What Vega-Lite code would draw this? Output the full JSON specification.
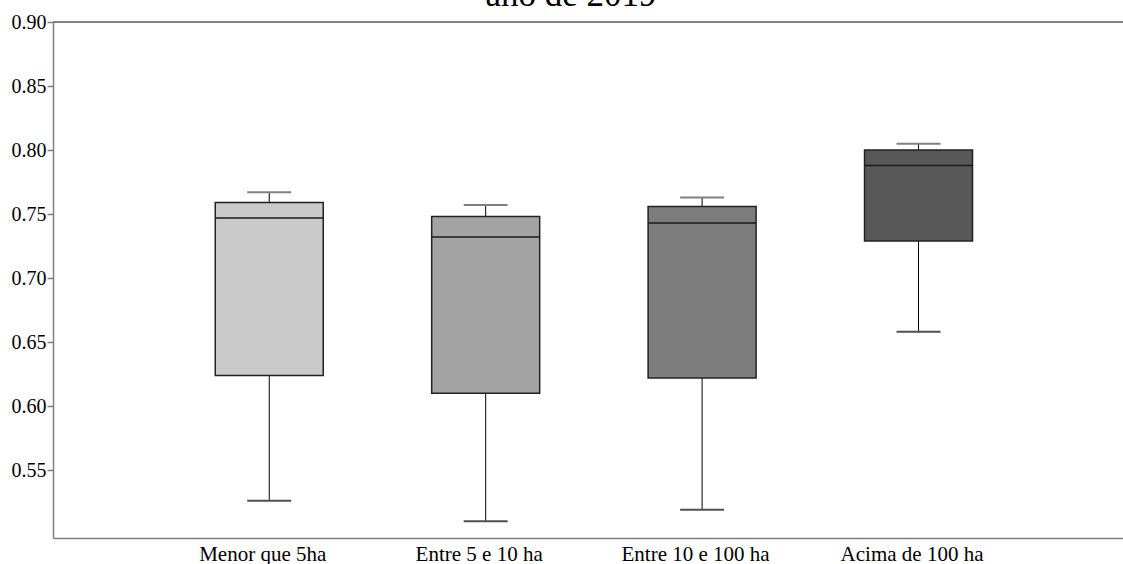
{
  "$schema": "https://vega.github.io/schema/vega-lite/v6.json",
  "autosize": "none",
  "width": 1070,
  "height": 516,
  "padding": {"left": 53, "top": 22, "right": 0, "bottom": 26},
  "background": "white",
  "view": {"stroke": null},
  "title": {"text": "ano de 2019", "font": "Liberation Serif", "fontSize": 35, "fontWeight": "normal", "color": "black", "anchor": "middle", "frame": "group", "baseline": "alphabetic", "offset": 0, "dy": 29, "dx": -17},
  "data": {"values": [
    {"cat": "Menor que 5ha", "lower": 0.526, "q1": 0.624, "median": 0.747, "q3": 0.759, "upper": 0.767},
    {"cat": "Entre 5 e 10 ha", "lower": 0.510, "q1": 0.610, "median": 0.732, "q3": 0.748, "upper": 0.757},
    {"cat": "Entre 10 e 100 ha", "lower": 0.519, "q1": 0.622, "median": 0.743, "q3": 0.756, "upper": 0.763},
    {"cat": "Acima de 100 ha", "lower": 0.658, "q1": 0.729, "median": 0.788, "q3": 0.800, "upper": 0.805}
  ]},
  "encoding": {
    "x": {"field": "cat", "type": "nominal", "sort": null,
      "scale": {"type": "point", "padding": 0.972, "align": 0.514},
      "axis": {"title": null, "labelAngle": 0, "labelFont": "Liberation Serif", "labelFontSize": 21, "labelColor": "black", "ticks": false, "labelPadding": 5, "labelOffset": -7, "domainColor": "#808080", "domainWidth": 1.5, "grid": false}}
  },
  "layer": [
    {"mark": {"type": "rule", "color": "#808080", "strokeWidth": 1.5}, "encoding": {"x": null, "y": {"datum": 0.9, "type": "quantitative"}}},
    {"mark": {"type": "rule", "color": "black", "strokeWidth": 1}, "encoding": {
      "y": {"field": "lower", "type": "quantitative", "scale": {"domain": [0.497, 0.9], "zero": false, "nice": false},
        "axis": {"title": null, "values": [0.55, 0.6, 0.65, 0.7, 0.75, 0.8, 0.85, 0.9], "format": ".2f", "labelFont": "Liberation Serif", "labelFontSize": 20, "labelColor": "black", "tickColor": "#808080", "tickSize": 6, "tickWidth": 1.5, "domainColor": "#808080", "domainWidth": 1.5, "grid": false, "labelPadding": 1}},
      "y2": {"field": "upper"}}},
    {"mark": {"type": "bar", "size": 108, "stroke": "#222222", "strokeWidth": 1.5}, "encoding": {
      "y": {"field": "q1", "type": "quantitative"}, "y2": {"field": "q3"},
      "fill": {"field": "cat", "type": "nominal", "sort": null, "legend": null,
        "scale": {"domain": ["Menor que 5ha", "Entre 5 e 10 ha", "Entre 10 e 100 ha", "Acima de 100 ha"], "range": ["#cacaca", "#a3a3a3", "#7d7d7d", "#585858"]}}}},
    {"mark": {"type": "tick", "orient": "horizontal", "size": 108, "thickness": 1.5, "color": "#1a1a1a", "opacity": 1}, "encoding": {"y": {"field": "median", "type": "quantitative"}}},
    {"mark": {"type": "tick", "orient": "horizontal", "size": 44, "thickness": 2, "color": "#808080", "opacity": 1}, "encoding": {"y": {"field": "upper", "type": "quantitative"}}},
    {"mark": {"type": "tick", "orient": "horizontal", "size": 44, "thickness": 2, "color": "#505050", "opacity": 1}, "encoding": {"y": {"field": "lower", "type": "quantitative"}}}
  ]
}
